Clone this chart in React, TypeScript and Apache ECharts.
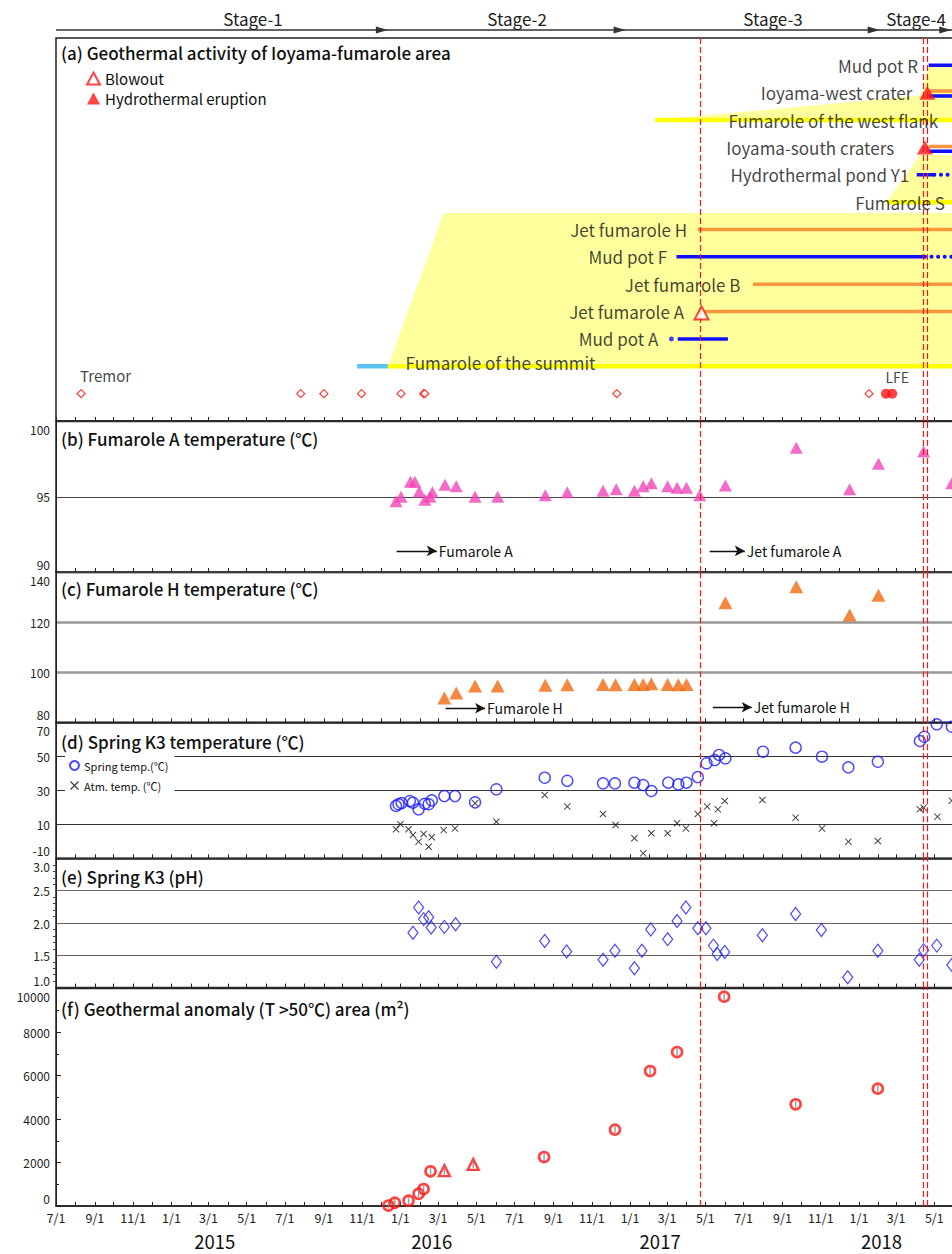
import React, { useEffect, useRef } from "react";
import * as echarts from "echarts";

const FONT = "'Noto Sans CJK JP', 'Noto Sans', sans-serif";

const t = (s: string): number => {
  const [y, m, d] = s.split("-").map(Number);
  return new Date(y, m - 1, d).getTime();
};

const X_MIN = "2014-07-01";
const X_MAX = "2018-08-01";
const LAST_LABEL = "2018-05-01";

// ---------- stage / year / event annotations ----------
const stageNames = ["Stage-1", "Stage-2", "Stage-3", "Stage-4"];
const stageEnds = ["2015-12-12", "2016-12-25", "2018-02-03", "2018-05-28"];
const stageLabelDates = ["2015-05-11", "2016-07-05", "2017-08-17", "2018-04-02"];
const yearNames = ["2015", "2016", "2017", "2018"];
const yearLabelDates = ["2015-03-11", "2016-02-20", "2017-02-18", "2018-02-06"];
const eventDates = ["2017-04-23", "2018-04-14", "2018-04-20"];

// ---------- panel (a) ----------
const rowNames = [
  "Mud pot R", "Ioyama-west crater", "Fumarole of the west flank", "Ioyama-south craters",
  "Hydrothermal pond Y1", "Fumarole S", "Jet fumarole H", "Mud pot F", "Jet fumarole B",
  "Jet fumarole A", "Mud pot A", "Fumarole of the summit",
];
const rowIndex = [1, 2, 3, 4, 5, 6, 7, 8, 9, 10, 11, 11.85];
const rowLabelEnds = [
  "2018-04-09", "2018-03-31", "2018-05-11", "2018-03-02", "2018-03-26", "2018-05-22",
  "2017-04-06", "2017-03-05", "2017-06-30", "2017-04-01", "2017-02-19", "2016-11-11",
];
// [row, start, end]
const blueSegments: [number, string, string][] = [
  [1, "2018-04-22", X_MAX],
  [2.12, "2018-04-22", X_MAX],
  [4.14, "2018-04-22", X_MAX],
  [5, "2018-04-03", "2018-05-01"],
  [8, "2017-03-16", "2018-04-16"],
  [11, "2017-03-18", "2017-06-06"],
];
const blueDottedSegments: [number, string, string][] = [
  [5, "2018-05-01", X_MAX],
  [8, "2018-04-16", X_MAX],
];
const orangeSegments: [number, string, string][] = [
  [1.94, "2018-04-22", X_MAX],
  [3.97, "2018-04-22", X_MAX],
  [7, "2017-04-19", X_MAX],
  [9, "2017-07-16", X_MAX],
  [10, "2017-04-30", X_MAX],
];
const yellowSegments: [number, string, string][] = [
  [3, "2017-02-10", X_MAX],
  [6, "2018-02-14", X_MAX],
  [12, "2015-12-12", X_MAX],
];
const lightBlueSegments: [number, string, string][] = [[12, "2015-10-24", "2015-12-12"]];
const mudDotPoints: [string, number][] = [["2017-03-08", 11]];
const yellowZones: [string, number][][] = [
  [["2015-12-12", 12], ["2016-03-10", 6.4], [X_MAX, 6.4], [X_MAX, 12]],
  [["2017-02-10", 3], ["2018-04-09", 2.1], ["2018-04-22", 1], [X_MAX, 1], [X_MAX, 3]],
  [["2018-02-14", 6], ["2018-04-08", 4.28], [X_MAX, 4.28], [X_MAX, 6]],
];
const blowoutPoints: [string, number][] = [["2017-04-25", 10.05]];
const eruptionPoints: [string, number][] = [["2018-04-20", 2], ["2018-04-16", 4]];
const tremorRow = 13;
const tremorDates = [
  "2014-08-10", "2015-07-26", "2015-09-01", "2015-10-31", "2016-01-02",
  "2016-02-07", "2016-02-09", "2016-12-11", "2018-01-17",
];
const lfeDates = ["2018-02-13", "2018-02-23"];

// ---------- panel (b) ----------
const fumADates = [
  "2015-12-25", "2016-01-02", "2016-01-17", "2016-01-24", "2016-01-31", "2016-02-09", "2016-02-17",
  "2016-02-21", "2016-03-12", "2016-03-30", "2016-04-29", "2016-06-04", "2016-08-19", "2016-09-23",
  "2016-11-19", "2016-12-10", "2017-01-08", "2017-01-22", "2017-02-04", "2017-03-02", "2017-03-17",
  "2017-04-01", "2017-04-22", "2017-06-02", "2017-09-23", "2017-12-17", "2018-02-01", "2018-04-14",
  "2018-05-29",
];
const fumAValues = [
  94.7, 95.0, 96.0, 96.0, 95.35, 94.8, 95.0, 95.3, 95.8, 95.7, 95.0, 95.0, 95.1, 95.3, 95.4, 95.5,
  95.4, 95.7, 95.9, 95.7, 95.6, 95.6, 95.1, 95.75, 98.25, 95.5, 97.2, 98.0, 95.9,
];
const fumAArrows: [string, string, number, string][] = [
  ["2015-12-26", "2016-02-28", 91.4, "Fumarole A"],
  ["2017-05-08", "2017-07-03", 91.4, "Jet fumarole A"],
];

// ---------- panel (c) ----------
const fumHDates = [
  "2016-03-11", "2016-03-30", "2016-04-29", "2016-06-04", "2016-08-19", "2016-09-23", "2016-11-19",
  "2016-12-09", "2017-01-08", "2017-01-22", "2017-02-04", "2017-03-02", "2017-03-19", "2017-04-01",
  "2017-06-02", "2017-09-23", "2017-12-17", "2018-02-01",
];
const fumHValues = [
  89.7, 91.7, 94.5, 94.5, 94.8, 95.0, 95.1, 95.0, 95.1, 95.1, 95.4, 95.1, 95.0, 95.1, 127.7, 134.1,
  122.8, 130.7,
];
const fumHArrows: [string, string, number, string][] = [
  ["2016-03-13", "2016-05-15", 85.6, "Fumarole H"],
  ["2017-05-13", "2017-07-14", 86, "Jet fumarole H"],
];

// ---------- panel (d) ----------
const springDates = [
  "2015-12-25", "2015-12-29", "2016-01-03", "2016-01-16", "2016-01-21", "2016-01-30", "2016-02-09",
  "2016-02-15", "2016-02-20", "2016-03-11", "2016-03-28", "2016-04-29", "2016-06-02", "2016-08-18",
  "2016-09-23", "2016-11-19", "2016-12-08", "2017-01-08", "2017-01-22", "2017-02-04", "2017-03-03",
  "2017-03-19", "2017-04-01", "2017-04-19", "2017-05-03", "2017-05-16", "2017-05-23", "2017-06-02",
  "2017-08-01", "2017-09-22", "2017-11-03", "2017-12-15", "2018-01-31", "2018-04-08", "2018-04-15",
  "2018-05-05", "2018-05-29",
];
const springValues = [
  20.8, 21.8, 22.5, 23.7, 22.7, 18.8, 22.1, 21.8, 24.1, 26.6, 26.6, 22.9, 30.6, 37.4, 35.6, 34.1,
  34.1, 34.5, 33.1, 29.6, 34.5, 33.5, 34.5, 37.8, 45.9, 47.8, 50.8, 48.8, 52.7, 55.1, 49.8, 43.5,
  46.8, 59.0, 61.5, 68.8, 67.4,
];
const atmDates = [
  "2015-12-25", "2016-01-01", "2016-01-14", "2016-01-21", "2016-01-30", "2016-02-07", "2016-02-15",
  "2016-02-20", "2016-03-10", "2016-03-28", "2016-04-29", "2016-06-02", "2016-08-18", "2016-09-23",
  "2016-11-19", "2016-12-09", "2017-01-08", "2017-01-22", "2017-02-04", "2017-03-02", "2017-03-17",
  "2017-03-31", "2017-04-19", "2017-05-04", "2017-05-15", "2017-05-21", "2017-06-01", "2017-07-31",
  "2017-09-22", "2017-11-03", "2017-12-15", "2018-01-31", "2018-04-08", "2018-04-14", "2018-05-06",
  "2018-05-29",
];
const atmValues = [
  7.1, 10.0, 7.1, 3.7, -0.2, 4.3, -3.2, 2.4, 6.6, 7.6, 22.4, 11.5, 27.2, 20.4, 16.1, 9.6, 1.8, -7.1,
  4.7, 4.7, 10.6, 7.6, 16.1, 20.4, 10.6, 18.8, 23.7, 24.3, 13.9, 7.6, -0.2, 0.2, 18.8, 19.8, 14.5,
  23.9,
];

// ---------- panel (e) ----------
const phDates = [
  "2016-01-21", "2016-01-30", "2016-02-07", "2016-02-15", "2016-02-19", "2016-03-11", "2016-03-29",
  "2016-06-02", "2016-08-18", "2016-09-22", "2016-11-19", "2016-12-08", "2017-01-08", "2017-01-20",
  "2017-02-03", "2017-03-02", "2017-03-17", "2017-03-31", "2017-04-19", "2017-05-02", "2017-05-14",
  "2017-05-20", "2017-06-01", "2017-07-31", "2017-09-22", "2017-11-02", "2017-12-14", "2018-01-31",
  "2018-04-07", "2018-04-14", "2018-05-05", "2018-05-29",
];
const phValues = [
  1.85, 2.24, 2.06, 2.09, 1.93, 1.94, 1.98, 1.40, 1.72, 1.56, 1.43, 1.57, 1.30, 1.57, 1.90, 1.75,
  2.03, 2.24, 1.92, 1.92, 1.65, 1.52, 1.55, 1.81, 2.14, 1.89, 1.16, 1.57, 1.43, 1.58, 1.65, 1.35,
];

// ---------- panel (f) ----------
const areaCircleDates = [
  "2015-12-13", "2015-12-23", "2016-01-14", "2016-01-30", "2016-02-07", "2016-02-18", "2016-08-17",
  "2016-12-08", "2017-02-02", "2017-03-17", "2017-05-31", "2017-09-22", "2018-01-31",
];
const areaCircleValues = [20, 150, 245, 565, 780, 1595, 2250, 3510, 6205, 7080, 9625, 4675, 5395];
const areaTriangleDates = ["2016-03-11", "2016-04-26"];
const areaTriangleValues = [1625, 1915];

// ---------- axis tick positions ----------
const monthTicks: number[] = [];
for (let y = 2014, m = 6; y < 2018 || (y === 2018 && m <= 7); ) {
  monthTicks.push(new Date(y, m, 1).getTime());
  m++;
  if (m > 11) { m = 0; y++; }
}
const labelMonths = monthTicks.filter((v) => new Date(v).getMonth() % 2 === 0 && v <= t(LAST_LABEL));

const panelTitles = [
  "(a) Geothermal activity of Ioyama-fumarole area",
  "(b) Fumarole A temperature (℃)",
  "(c) Fumarole H temperature (℃)",
  "(d) Spring K3 temperature (℃)",
  "(e) Spring K3 (pH)",
  "(f) Geothermal anomaly (T >50℃) area (m²)",
];

const BLUE = "#1010ff";
const ORANGE = "#f7963f";
const YELLOW = "#ffff00";
const YELLOW_FILL = "#ffff9e";
const RED = "#ff1414";

function yLabelFor(min: number, max: number, fmt: (v: number) => string) {
  const base = { fontSize: 12, fontFamily: FONT, color: "#222", lineHeight: 12 };
  return {
    ...base, margin: 6,
    verticalAlignMinLabel: "bottom", verticalAlignMaxLabel: "top",
    formatter: (v: number) => {
      const s = fmt(v);
      if (Math.abs(v - min) < 1e-9) return `{lo|${s}}`;
      if (Math.abs(v - max) < 1e-9) return `{hi|${s}}`;
      return s;
    },
    rich: {
      lo: { ...base, padding: [0, 0, 3, 0] },
      hi: { ...base, padding: [4, 0, 0, 0] },
    },
  };
}

function buildOption(): any {
  const grids = [
    { top: 38, height: 383 },
    { top: 421.5, height: 150.5 },
    { top: 572, height: 150.3 },
    { top: 722.3, height: 136 },
    { top: 858.4, height: 129.2 },
    { top: 988.5, height: 217.5 },
  ].map((g) => ({
    ...g, left: 56, right: 8, show: true, borderColor: "#222", borderWidth: 1.5,
    backgroundColor: "transparent",
  }));

  const xAxis = grids.map((_, i) => ({
    type: "value", gridIndex: i, min: t(X_MIN), max: t(X_MAX),
    axisLine: { show: true, onZero: false, lineStyle: { color: "#222", width: 1.5 } },
    axisTick: { show: true, inside: true, length: 4, customValues: monthTicks, lineStyle: { color: "#222" } },
    axisLabel: i === 5
      ? {
          show: true, customValues: labelMonths, fontSize: 12.5, lineHeight: 13, color: "#222", fontFamily: FONT, margin: 5,
          formatter: (v: number) => { const d = new Date(v); return `${d.getMonth() + 1}/${d.getDate()}`; },
        }
      : { show: false },
    splitLine: { show: false },
  }));

  const plain = (v: number) => String(v);
  const yAxis: any[] = [
    { type: "value", gridIndex: 0, min: 0, max: 14, inverse: true, show: false },
    {
      type: "value", gridIndex: 1, min: 90, max: 100, interval: 5, axisLine: { show: true, lineStyle: { color: "#222" } },
      axisTick: { show: false }, axisLabel: yLabelFor(90, 100, plain),
      splitLine: { show: true, lineStyle: { color: "#444", width: 1 } },
    },
    {
      type: "value", gridIndex: 2, min: 80, max: 140, interval: 20, axisLine: { show: true, lineStyle: { color: "#222" } },
      axisTick: { show: false }, axisLabel: yLabelFor(80, 140, plain),
      splitLine: { show: true, lineStyle: { color: "#999", width: 2.5 } },
    },
    {
      type: "value", gridIndex: 3, min: -10, max: 70, interval: 20, axisLine: { show: true, lineStyle: { color: "#222" } },
      axisTick: { show: false }, axisLabel: yLabelFor(-10, 70, plain),
      splitLine: { show: true, lineStyle: { color: "#333", width: 1 } },
    },
    {
      type: "value", gridIndex: 4, min: 1, max: 3, interval: 0.5, axisLine: { show: true, lineStyle: { color: "#222" } },
      axisTick: { show: false }, minorTick: { show: true, splitNumber: 5, length: 3, lineStyle: { color: "#444" } },
      axisLabel: yLabelFor(1, 3, (v) => v.toFixed(1)),
      splitLine: { show: true, lineStyle: { color: "#666", width: 1 } },
    },
    {
      type: "value", gridIndex: 5, min: 0, max: 10000, interval: 2000, axisLine: { show: true, lineStyle: { color: "#222" } },
      axisTick: { show: true, inside: true, length: 5, lineStyle: { color: "#222" } },
      minorTick: { show: true, splitNumber: 2, length: 3, lineStyle: { color: "#222" } },
      axisLabel: yLabelFor(0, 10000, plain), splitLine: { show: false },
    },
  ];

  const eventLines = eventDates.map((d) => ({
    xAxis: t(d), symbol: "none", label: { show: false },
    lineStyle: { color: RED, type: [6, 3], width: 1.2 },
  }));
  const eventMark = (extra: any[] = []) => ({
    silent: true, symbol: ["none", "none"], animation: false,
    data: [...eventLines, ...extra],
  });
  const arrowItems = (arrows: [string, string, number, string][]) =>
    arrows.map(([s, e, v, name]) => [
      {
        coord: [t(s), v], name, symbol: "none",
        lineStyle: { color: "#111", type: "solid", width: 1.4 },
        label: { show: true, position: "end", formatter: name, fontSize: 14, color: "#111", fontFamily: FONT, distance: 2 },
      },
      { coord: [t(e), v], symbol: "arrow", symbolSize: [8, 10] },
    ]);

  const series: any[] = [];

  series.push({
    type: "custom", name: "zones", xAxisIndex: 0, yAxisIndex: 0, z: 1, silent: true,
    data: yellowZones.map((z) => [t(z[0][0]), z[0][1]]),
    encode: { x: 0, y: 1 },
    renderItem: (params: any, api: any) => {
      const poly = yellowZones[params.dataIndex];
      return {
        type: "polygon",
        shape: { points: poly.map(([d, r]) => api.coord([t(d), r])) },
        style: { fill: YELLOW_FILL, stroke: "none" },
      };
    },
  });
  const segSeries = (segs: [number, string, string][], color: string, width: number, dotted = false) =>
    segs.forEach(([r, s, e]) =>
      series.push({
        type: "line", xAxisIndex: 0, yAxisIndex: 0, z: 3, silent: true, symbol: "none",
        data: [[t(s), r], [t(e), r]],
        lineStyle: dotted
          ? { color, width: 4, type: [0.1, 6.5], cap: "round" }
          : { color, width, type: "solid", cap: "butt" },
      })
    );
  segSeries(yellowSegments, YELLOW, 4.5);
  segSeries(lightBlueSegments, "#5bc3f0", 4.5);
  segSeries(orangeSegments, ORANGE, 3.5);
  segSeries(blueSegments, BLUE, 3.5);
  segSeries(blueDottedSegments, BLUE, 4, true);
  series.push({
    type: "scatter", xAxisIndex: 0, yAxisIndex: 0, z: 3, silent: true, symbol: "circle", symbolSize: 5,
    itemStyle: { color: BLUE }, data: mudDotPoints.map(([d, r]) => [t(d), r]),
  });
  series.push({
    type: "scatter", name: "rowLabels", xAxisIndex: 0, yAxisIndex: 0, z: 5, silent: true,
    symbolSize: 1, itemStyle: { color: "rgba(0,0,0,0)" },
    data: rowNames.map((n, i) => [t(rowLabelEnds[i]), rowIndex[i], n]),
    label: {
      show: true, position: "left", distance: 2, formatter: (p: any) => p.data[2],
      fontSize: 17, fontFamily: FONT, color: "#111",
    },
  });
  series.push({
    type: "scatter", name: "Blowout", xAxisIndex: 0, yAxisIndex: 0, z: 6, symbol: "triangle", symbolSize: [14, 13],
    itemStyle: { color: "#ffffff", borderColor: RED, borderWidth: 2 },
    data: blowoutPoints.map(([d, r]) => [t(d), r]),
  });
  series.push({
    type: "scatter", name: "Hydrothermal eruption", xAxisIndex: 0, yAxisIndex: 0, z: 6, symbol: "triangle",
    symbolSize: [16, 14], itemStyle: { color: RED },
    data: eruptionPoints.map(([d, r]) => [t(d), r]),
  });
  series.push({
    type: "scatter", name: "Tremor", xAxisIndex: 0, yAxisIndex: 0, z: 6, symbol: "diamond", symbolSize: 8,
    itemStyle: { color: "#ffffff", borderColor: RED, borderWidth: 1.3 },
    data: tremorDates.map((d, i) =>
      i === 0
        ? {
            value: [t(d), tremorRow],
            label: { show: true, formatter: "Tremor", position: "top", align: "left", offset: [-1, -1], fontSize: 15, color: "#111", fontFamily: FONT },
          }
        : [t(d), tremorRow]
    ),
    markLine: eventMark(),
  });
  series.push({
    type: "scatter", name: "LFE", xAxisIndex: 0, yAxisIndex: 0, z: 6, symbol: "circle", symbolSize: 10,
    itemStyle: { color: RED },
    data: lfeDates.map((d, i) =>
      i === 1
        ? {
            value: [t(d), tremorRow],
            label: { show: true, formatter: "LFE", position: "top", offset: [5, 0], fontSize: 14, color: "#111", fontFamily: FONT },
          }
        : [t(d), tremorRow]
    ),
  });

  series.push({
    type: "scatter", name: "FumA", xAxisIndex: 1, yAxisIndex: 1, symbol: "triangle", symbolSize: [13, 12],
    itemStyle: { color: "#f046b8" },
    data: fumADates.map((d, i) => [t(d), fumAValues[i]]),
    markLine: eventMark(arrowItems(fumAArrows)),
  });
  series.push({
    type: "scatter", name: "FumH", xAxisIndex: 2, yAxisIndex: 2, symbol: "triangle", symbolSize: [14, 13],
    itemStyle: { color: "#f26a12" },
    data: fumHDates.map((d, i) => [t(d), fumHValues[i]]),
    markLine: eventMark(arrowItems(fumHArrows)),
  });
  series.push({
    type: "scatter", name: "Spring temp.(℃)", xAxisIndex: 3, yAxisIndex: 3, symbol: "circle", symbolSize: 11,
    itemStyle: { color: "rgba(0,0,0,0)", borderColor: "#1a1aff", borderWidth: 1.4 },
    data: springDates.map((d, i) => [t(d), springValues[i]]),
    markLine: eventMark(),
  });
  series.push({
    type: "scatter", name: "Atm. temp. (℃)", xAxisIndex: 3, yAxisIndex: 3,
    symbol: "path://M0,1L1,0L5,4L9,0L10,1L6,5L10,9L9,10L5,6L1,10L0,9L4,5Z", symbolSize: 7,
    itemStyle: { color: "#111" },
    data: atmDates.map((d, i) => [t(d), atmValues[i]]),
  });
  series.push({
    type: "scatter", name: "pH", xAxisIndex: 4, yAxisIndex: 4, symbol: "diamond", symbolSize: [10, 13],
    itemStyle: { color: "rgba(0,0,0,0)", borderColor: "#1a1aff", borderWidth: 1.2 },
    data: phDates.map((d, i) => [t(d), phValues[i]]),
    markLine: eventMark(),
  });
  series.push({
    type: "scatter", name: "Area", xAxisIndex: 5, yAxisIndex: 5, symbol: "circle", symbolSize: 10, z: 3,
    itemStyle: { color: "rgba(0,0,0,0)", borderColor: RED, borderWidth: 2.6 },
    data: areaCircleDates.map((d, i) => [t(d), areaCircleValues[i]]),
    markLine: eventMark(),
  });
  series.push({
    type: "scatter", name: "AreaTri", xAxisIndex: 5, yAxisIndex: 5, symbol: "triangle", symbolSize: [11, 11], z: 3,
    itemStyle: { color: "rgba(0,0,0,0)", borderColor: RED, borderWidth: 2.4 },
    data: areaTriangleDates.map((d, i) => [t(d), areaTriangleValues[i]]),
  });
  series.push({
    type: "scatter", name: "AreaErr", xAxisIndex: 5, yAxisIndex: 5, symbol: "rect", symbolSize: [1.5, 8], z: 4,
    itemStyle: { color: "#888" }, silent: true,
    data: [
      ...areaCircleDates.map((d, i) => [t(d), areaCircleValues[i]]),
      ...areaTriangleDates.map((d, i) => [t(d), areaTriangleValues[i]]),
    ],
  });

  const titleTops = [42, 428, 578, 731.7, 866.7, 998.3];
  const title = panelTitles.map((txt, i) => ({
    text: txt, left: 61, top: titleTops[i], padding: 0,
    textStyle: { fontSize: 17, fontWeight: 500, fontFamily: FONT, color: "#111", lineHeight: 20 },
  }));

  return {
    animation: false,
    backgroundColor: "#ffffff",
    title,
    grid: grids,
    xAxis,
    yAxis,
    legend: [
      {
        data: ["Blowout", "Hydrothermal eruption"], orient: "vertical", left: 81, top: 66, itemGap: 5,
        itemWidth: 13, itemHeight: 12, selectedMode: false,
        textStyle: { fontSize: 15, fontFamily: FONT, color: "#111", padding: [0, 0, 0, 0] },
      },
      {
        data: ["Spring temp.(℃)", "Atm. temp. (℃)"], orient: "vertical", left: 65, top: 756, itemGap: 9,
        itemWidth: 9, itemHeight: 9, selectedMode: false, backgroundColor: "#ffffff", padding: [4, 6, 4, 4],
        textStyle: { fontSize: 11, fontFamily: FONT, color: "#111" },
      },
    ],
    series,
  };
}

export default function App() {
  const ref = useRef<HTMLDivElement>(null);
  useEffect(() => {
    if (!ref.current) return;
    const chart = echarts.init(ref.current, null, { renderer: "svg" });
    chart.setOption(buildOption());
    const px = (d: string) => chart.convertToPixel({ xAxisIndex: 0 }, t(d)) as unknown as number;
    const g: any[] = [];
    const x0 = px(X_MIN);
    g.push({ type: "line", shape: { x1: x0, y1: 30, x2: 1000, y2: 30 }, style: { stroke: "#333", lineWidth: 1.5 } });
    stageEnds.forEach((d) => {
      const x = px(d);
      g.push({ type: "polygon", shape: { points: [[x - 12, 26.5], [x, 30], [x - 12, 33.5]] }, style: { fill: "#333" } });
    });
    stageNames.forEach((n, i) =>
      g.push({
        type: "text", x: px(stageLabelDates[i]), y: 18,
        style: { text: n, fontSize: 17, fontFamily: FONT, fill: "#222", textAlign: "center", textVerticalAlign: "middle", align: "center", verticalAlign: "middle" },
      })
    );
    yearNames.forEach((n, i) =>
      g.push({
        type: "text", x: px(yearLabelDates[i]), y: 1241,
        style: { text: n, fontSize: 18.5, lineHeight: 19, fontFamily: FONT, fill: "#111", textAlign: "center", textVerticalAlign: "middle", align: "center", verticalAlign: "middle" },
      })
    );
    chart.setOption({ graphic: g });
    return () => chart.dispose();
  }, []);
  return (
    <div style={{ position: "fixed", left: 0, top: 0, width: 952, height: 1254, overflow: "hidden", background: "#fff" }}>
      <div ref={ref} style={{ width: 1000, height: 1254 }} />
    </div>
  );
}
